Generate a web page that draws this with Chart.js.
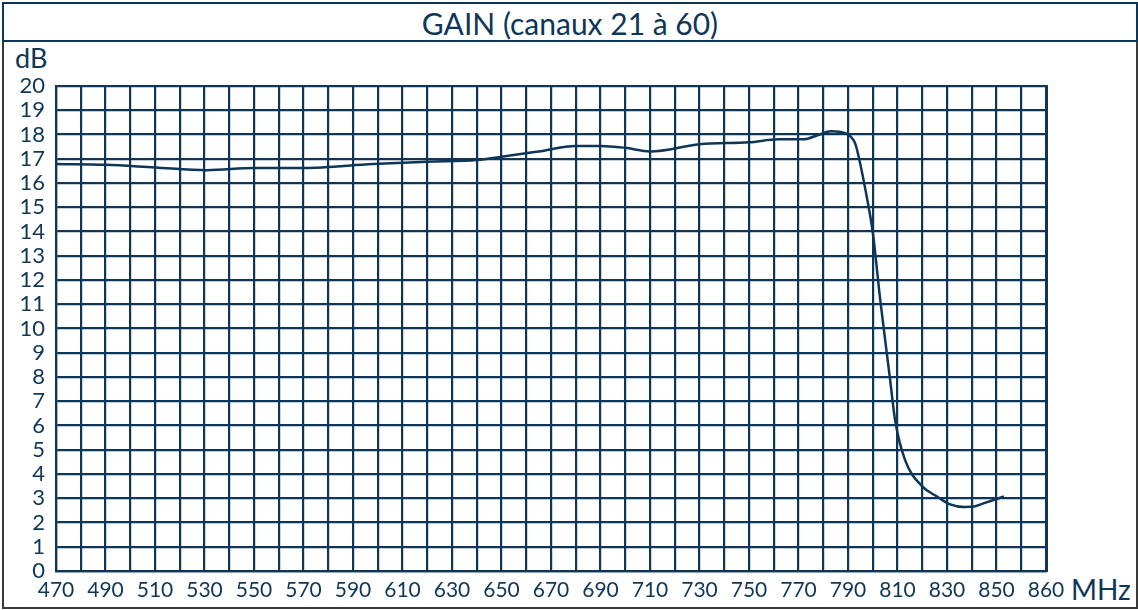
<!DOCTYPE html>
<html>
<head>
<meta charset="utf-8">
<script src="https://cdn.jsdelivr.net/npm/chart.js@4.4.0/dist/chart.umd.min.js"></script>
<style>
  html, body { margin: 0; padding: 0; background: #fff; }
  body { width: 1138px; height: 610px; position: relative; overflow: hidden; font-family: Lato, "Open Sans", sans-serif; color: #0e3658; }
  #frame { position: absolute; left: 2px; top: 39px; width: 1132px; height: 568px; border: 2px solid #3a3a3a; border-top: none; }
  #titlebox { position: absolute; left: 2px; top: 2px; width: 1132px; height: 36px; border: 2px solid #0e3658; text-align: center; line-height: 38px; font-size: 30px; }
  #unitY { position: absolute; left: 15px; top: 41px; font-size: 27px; }
  #unitX { position: absolute; left: 1071px; top: 572px; font-size: 28px; }
  canvas { position: absolute; left: 0; top: 0; }
</style>
</head>
<body>
<div id="frame"></div>
<div id="titlebox">GAIN (canaux 21 à 60)</div>
<div id="unitY">dB</div>
<div id="unitX">MHz</div>
<canvas id="c" width="1138" height="610"></canvas>
<script>
const freqMHz = [470, 490, 510, 531, 550, 570, 598, 620, 640, 650, 665, 680, 690, 700, 710, 730, 750, 762, 772, 778, 783, 787, 791, 793, 797, 800, 803, 807, 809, 813, 820, 826, 831, 837, 841, 845, 853];
const gainDb  = [16.78, 16.75, 16.64, 16.53, 16.62, 16.62, 16.78, 16.88, 16.95, 17.08, 17.3, 17.53, 17.53, 17.45, 17.3, 17.6, 17.68, 17.8, 17.8, 17.98, 18.13, 18.1, 17.92, 17.6, 15.74, 13.97, 11.2, 7.9, 6.24, 4.59, 3.49, 3.07, 2.76, 2.64, 2.66, 2.8, 3.07];
const xTickValues = [470, 490, 510, 530, 550, 570, 590, 610, 630, 650, 670, 690, 710, 730, 750, 770, 790, 810, 830, 850, 870];
const xTickLabels = ['470', '490', '510', '530', '550', '570', '590', '610', '630', '650', '670', '690', '710', '730', '750', '770', '790', '810', '830', '850', '860'];
const yTickValues = [0,1,2,3,4,5,6,7,8,9,10,11,12,13,14,15,16,17,18,19,20];

const NAVY = '#0e3658';
const points = freqMHz.map((f, i) => ({ x: f, y: gainDb[i] }));

new Chart(document.getElementById('c'), {
  type: 'line',
  data: { datasets: [{ data: points, borderColor: NAVY, borderWidth: 2.5, pointRadius: 0, cubicInterpolationMode: 'monotone', fill: false }] },
  options: {
    responsive: false,
    animation: false,
    layout: { padding: { left: 0, top: 86, right: 92, bottom: 0 } },
    plugins: { legend: { display: false }, tooltip: { enabled: false }, title: { display: false } },
    scales: {
      x: {
        type: 'linear', min: 470, max: 870,
        afterFit: s => { s.height = 39; },
        afterBuildTicks: s => { const t = []; for (let v = 470; v <= 870; v += 10) t.push({ value: v }); s.ticks = t; },
        grid: { color: NAVY, lineWidth: 2.2, drawTicks: false },
        border: { color: NAVY, width: 2.2 },
        ticks: {
          autoSkip: false, maxRotation: 0, padding: 7, color: NAVY,
          font: { family: 'Lato', size: 21 },
          callback: v => { const i = xTickValues.indexOf(v); return i >= 0 ? xTickLabels[i] : ''; }
        }
      },
      y: {
        type: 'linear', min: 0, max: 20,
        afterFit: s => { s.width = 56; },
        afterBuildTicks: s => { s.ticks = yTickValues.map(v => ({ value: v })); },
        grid: { color: NAVY, lineWidth: 2.2, drawTicks: false },
        border: { color: NAVY, width: 2.2 },
        ticks: { autoSkip: false, padding: 11, color: NAVY, font: { family: 'Lato', size: 22 } }
      }
    }
  },
  plugins: [{
    id: 'rightEdge',
    afterDraw(chart) {
      const { ctx, chartArea: a } = chart;
      ctx.save();
      ctx.strokeStyle = NAVY; ctx.lineWidth = 3;
      ctx.beginPath(); ctx.moveTo(a.right + 0.5, a.top - 1); ctx.lineTo(a.right + 0.5, a.bottom + 1); ctx.stroke();
      ctx.restore();
    }
  }]
});
</script>
</body>
</html>
